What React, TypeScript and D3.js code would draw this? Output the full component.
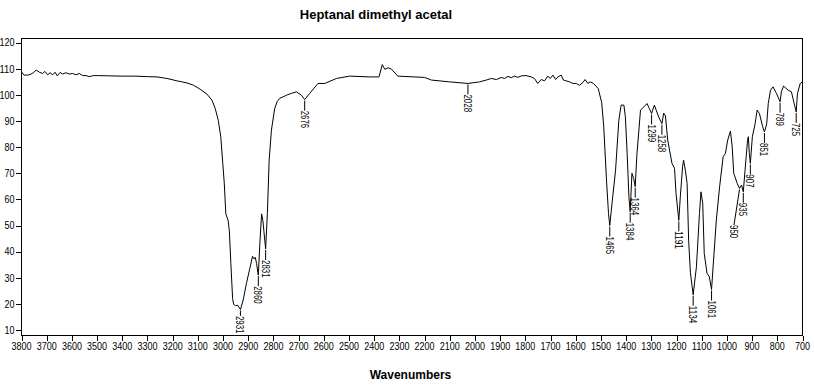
import React from "react";
import * as d3 from "d3";

const TITLE = "Heptanal dimethyl acetal";
const X_TITLE = "Wavenumbers";

const wavenumbers = [
  3800, 3790, 3775, 3766, 3753, 3742, 3729, 3716, 3707, 3696, 3687, 3676, 3667, 3658, 3647, 3637, 3624, 3610, 3597, 3584,
  3571, 3557, 3544, 3531, 3515, 3495, 3450, 3400, 3350, 3300, 3262, 3222, 3183, 3143, 3117, 3091, 3064, 3044, 3031, 3019,
  3009, 3001, 2995, 2989, 2980, 2975, 2969, 2962, 2958, 2950, 2942, 2931, 2920, 2907, 2894, 2883, 2877, 2872, 2867, 2860,
  2854, 2847, 2842, 2838, 2831, 2824, 2817, 2808, 2795, 2785, 2775, 2748, 2729, 2709, 2689, 2676, 2656, 2623, 2596, 2550,
  2497, 2418, 2381, 2368, 2358, 2345, 2332, 2306, 2200, 2173, 2101, 2028, 1982, 1955, 1935, 1915, 1896, 1883, 1869, 1856,
  1843, 1830, 1816, 1797, 1777, 1764, 1751, 1737, 1724, 1711, 1701, 1691, 1680, 1671, 1658, 1649, 1638, 1625, 1612, 1598,
  1585, 1572, 1563, 1552, 1543, 1530, 1511, 1497, 1489, 1478, 1470, 1465, 1456, 1442, 1429, 1420, 1409, 1403, 1396, 1389,
  1384, 1377, 1370, 1364, 1357, 1343, 1330, 1317, 1308, 1299, 1288, 1271, 1258, 1251, 1244, 1235, 1218, 1208, 1202, 1191,
  1185, 1176, 1172, 1165, 1158, 1152, 1145, 1138, 1134, 1121, 1109, 1103, 1096, 1090, 1079, 1070, 1061, 1053, 1042, 1029,
  1015, 1006, 997, 986, 979, 973, 959, 950, 942, 935, 928, 918, 915, 911, 907, 899, 888, 880, 871, 858,
  851, 842, 836, 827, 817, 803, 789, 784, 775, 757, 744, 733, 725, 720, 709, 700,
];

const transmittance = [
  108.8, 107.6, 107.6, 107.8, 108.5, 109.5, 108.7, 108.2, 109.0, 107.7, 108.5, 107.7, 108.7, 107.3, 108.6, 108.0, 108.5, 108.0, 108.2, 107.7,
  108.2, 107.4, 107.4, 107.0, 107.4, 107.4, 107.3, 107.2, 107.2, 107.0, 106.9, 106.3, 105.4, 104.6, 103.7, 102.2, 100.3, 98.0, 94.8, 90.3,
  84.0, 73.8, 66.0, 54.5, 52.0, 48.0, 35.5, 22.0, 19.8, 19.3, 19.5, 17.8, 21.5, 27.9, 33.5, 38.2, 37.2, 37.8, 35.5, 31.0,
  43.0, 54.5, 52.0, 48.0, 41.0, 54.6, 75.0, 86.5, 94.8, 97.5, 98.7, 99.9, 100.6, 101.2, 99.9, 98.2, 100.6, 104.4, 104.4, 106.3,
  107.2, 106.9, 106.9, 111.6, 109.8, 110.4, 109.9, 107.2, 106.7, 105.7, 105.0, 104.4, 105.0, 105.7, 106.3, 105.9, 106.7, 106.3, 107.1, 106.6,
  107.2, 106.7, 107.3, 107.4, 106.9, 106.3, 104.4, 105.9, 105.4, 107.2, 106.3, 107.6, 105.9, 106.9, 107.6, 105.7, 105.4, 105.0, 104.4, 104.4,
  103.7, 104.7, 105.9, 104.4, 105.0, 104.4, 102.5, 97.0, 88.0, 67.4, 54.6, 50.0, 58.5, 71.2, 90.3, 96.1, 96.1, 91.6, 77.6, 61.0,
  55.3, 70.0, 68.0, 64.9, 77.6, 94.2, 95.4, 96.7, 94.8, 92.9, 96.1, 91.6, 89.0, 93.0, 92.0, 82.7, 73.8, 71.9, 62.3, 52.0,
  61.0, 72.5, 75.0, 71.2, 66.1, 44.4, 32.0, 26.6, 23.5, 34.2, 54.6, 62.9, 58.5, 39.3, 31.7, 30.4, 25.5, 36.8, 52.1, 64.9,
  76.3, 77.6, 82.7, 86.2, 80.1, 70.0, 66.1, 64.2, 65.5, 62.9, 71.2, 82.7, 84.0, 77.6, 73.8, 84.0, 89.0, 94.2, 92.9, 87.8,
  85.8, 89.0, 96.7, 101.8, 103.1, 100.5, 97.4, 101.2, 103.4, 101.8, 101.2, 96.7, 93.5, 100.6, 104.4, 105.0,
];

const peakWavenumbers = [2931, 2860, 2831, 2676, 2028, 1465, 1384, 1364, 1299, 1258, 1191, 1134, 1061, 950, 935, 907, 851, 789, 725];
// wavenumber where each peak's label text sits (differs only for the 950 shoulder, whose leader is slanted)
const peakLabelAt = [2931, 2860, 2831, 2676, 2028, 1465, 1384, 1364, 1299, 1258, 1191, 1134, 1061, 972, 935, 907, 851, 789, 725];

const xTickValues = [3800, 3700, 3600, 3500, 3400, 3300, 3200, 3100, 3000, 2900, 2800, 2700, 2600, 2500, 2400, 2300, 2200, 2100, 2000, 1900, 1800, 1700, 1600, 1500, 1400, 1300, 1200, 1100, 1000, 900, 800, 700];
const yTickValues = [10, 20, 30, 40, 50, 60, 70, 80, 90, 100, 110, 120];

const FONT = "'Liberation Sans', Arial, sans-serif";

export default function App() {
  const W = 814;
  const H = 386;
  const left = 21.5, right = 802.5, top = 38.5, bottom = 335.5;
  const x = d3.scaleLinear().domain([3800, 700]).range([21.5, 802.5]);
  const y = d3.scaleLinear().domain([10, 120]).range([330, 42.7]);

  const pts: [number, number][] = wavenumbers.map((w, i) => [w, transmittance[i]]);
  const line = d3.line<[number, number]>().x((d) => x(d[0])).y((d) => y(d[1]));

  const asc = pts.slice().reverse();
  const interp = (w: number) => {
    const i = d3.bisector((d: [number, number]) => d[0]).left(asc, w);
    if (i <= 0) return asc[0][1];
    if (i >= asc.length) return asc[asc.length - 1][1];
    const a = asc[i - 1], b = asc[i];
    if (b[0] === w) return b[1];
    const t = (w - a[0]) / (b[0] - a[0]);
    return a[1] + t * (b[1] - a[1]);
  };

  const digitW = 4.4;

  // label layouts; a peak very close to a lower-wavenumber neighbour gets its label pushed below that neighbour's label
  type Lab = { w: number; px: number; py: number; lx: number; ty: number; len: number; text: string };
  const labs: Lab[] = [];
  peakWavenumbers.forEach((w, i) => {
    const px = x(w);
    const py = y(interp(w));
    const text = String(w);
    const len = text.length * digitW;
    const lx = x(peakLabelAt[i]);
    let ty = py + 11;
    if (ty + len > bottom - 2) ty = bottom - 2 - len;
    labs.push({ w, px, py, lx, ty, len, text });
  });
  for (let i = 0; i < labs.length; i++) {
    for (let j = 0; j < labs.length; j++) {
      if (i === j) continue;
      const a = labs[i], b = labs[j];
      const close = a.w > b.w && a.w - b.w < 20;
      if (close && a.ty < b.ty + b.len && a.ty + a.len > b.ty) {
        a.ty = b.ty + b.len + 9;
      }
    }
  }

  return (
    <svg width={W} height={H} style={{ position: "absolute", left: 0, top: 0, background: "#fff" }} fontFamily={FONT}>
      <rect x={0} y={0} width={W} height={H} fill="#fff" />
      <text x={376} y={18.5} textAnchor="middle" fontSize={13} fontWeight="bold" fill="#000">{TITLE}</text>
      <text x={410.5} y={379} textAnchor="middle" fontSize={12} fontWeight="bold" fill="#000">{X_TITLE}</text>

      {/* frame */}
      <rect x={left} y={top} width={right - left} height={bottom - top} fill="none" stroke="#000" strokeWidth={1} shapeRendering="crispEdges" />

      {/* y ticks */}
      {yTickValues.map((v) => (
        <g key={"y" + v}>
          <line x1={16} x2={left} y1={Math.round(y(v)) + 0.5} y2={Math.round(y(v)) + 0.5} stroke="#000" shapeRendering="crispEdges" />
          <text x={14.5} y={y(v)} dy="0.36em" textAnchor="end" fontSize={10.5} fill="#000"
            textLength={String(v).length * 5} lengthAdjust="spacingAndGlyphs">{v}</text>
        </g>
      ))}

      {/* x ticks */}
      {xTickValues.map((v) => (
        <g key={"x" + v}>
          <line x1={Math.round(x(v)) + 0.5} x2={Math.round(x(v)) + 0.5} y1={bottom} y2={bottom + 5} stroke="#000" shapeRendering="crispEdges" />
          <text x={x(v)} y={350} textAnchor="middle" fontSize={10.5} fill="#000"
            textLength={String(v).length * 5} lengthAdjust="spacingAndGlyphs">{v}</text>
        </g>
      ))}

      {/* spectrum */}
      <path d={line(pts) || ""} fill="none" stroke="#000" strokeWidth={1} />

      {/* peak labels */}
      {labs.map((l) => (
        <g key={"p" + l.w}>
          <line x1={l.px} y1={l.py + 1} x2={l.lx} y2={l.ty} stroke="#000" strokeWidth={1} />
          <text transform={`translate(${l.lx},${l.ty}) rotate(90)`} x={0} y={0} dominantBaseline="central" textAnchor="start"
            fontSize={10.5} fill="#000" textLength={l.len} lengthAdjust="spacingAndGlyphs">{l.text}</text>
        </g>
      ))}
    </svg>
  );
}
